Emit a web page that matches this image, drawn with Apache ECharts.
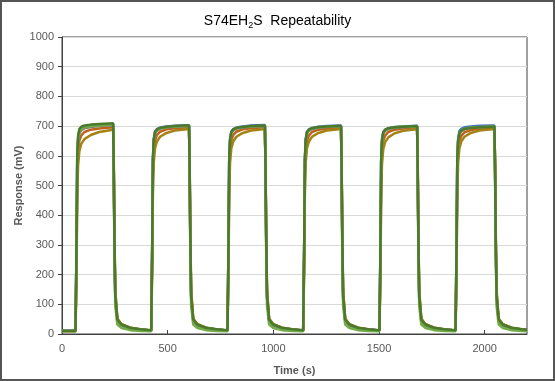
<!DOCTYPE html>
<html><head><meta charset="utf-8">
<script src="https://cdn.jsdelivr.net/npm/echarts@6/dist/echarts.min.js"></script>
<style>html,body{margin:0;padding:0;background:#fff}#c{width:555px;height:381px}</style>
</head><body><div id="c"></div>
<script>
const titleText = 'S74EH{sub|2}S  Repeatability';
const xTitle = 'Time (s)';
const yTitle = 'Response (mV)';

const time = [0,
64,69,72,76,82,91,106,136,176,242,245,248,252,262,282,322,372,
422,427,430,434,440,449,464,494,534,601,604,607,611,621,641,681,731,
783,788,791,795,801,810,825,855,895,960,963,966,970,980,1000,1040,1090,
1141,1146,1149,1153,1159,1168,1183,1213,1253,1320,1323,1326,1330,1340,1360,1400,1450,
1502,1507,1510,1514,1520,1529,1544,1574,1614,1680,1683,1686,1690,1700,1720,1760,1810,
1862,1867,1870,1874,1880,1889,1904,1934,1974,2046,2049,2052,2056,2066,2086,2126,2176,
2200];

const blue = [10,
10,320,590,660,685,693,698,701,703,705,550,320,125,44,29,19,15,
12,315,585,655,682,690,695,699,701,703,550,320,125,44,29,19,15,
12,315,585,655,682,690,695,699,702,704,550,320,125,44,29,19,15,
12,315,585,655,681,689,694,698,700,702,550,320,125,44,29,19,15,
12,315,585,654,680,688,693,697,699,701,550,320,125,44,29,19,15,
12,315,585,656,683,691,696,699,701,702,550,320,125,44,29,19,15,
14];

const orange = [10,
10,260,520,610,650,668,680,688,692,696,565,340,140,50,32,21,15,
12,260,520,612,652,670,681,689,693,696,565,340,140,50,32,21,15,
12,260,520,612,652,670,681,689,693,696,565,340,140,50,32,21,15,
12,258,518,610,650,668,680,688,692,695,565,340,140,50,32,21,15,
12,258,518,610,650,668,680,688,692,695,565,340,140,50,32,21,15,
12,255,515,608,649,667,679,687,691,694,565,340,140,50,32,21,15,
14];

const gray = [11,
11,300,575,648,675,686,693,697,700,703,545,310,120,42,28,19,14,
12,300,575,648,675,685,691,695,698,700,545,310,120,42,28,19,14,
12,300,575,648,675,685,691,695,698,700,545,310,120,42,28,19,14,
12,300,575,647,674,684,690,694,697,699,545,310,120,42,28,19,14,
12,300,575,647,674,684,690,694,696,698,545,310,120,42,28,19,14,
12,298,573,646,673,683,689,694,696,698,545,310,120,42,28,19,14,
13];

const gold = [9,
9,220,460,565,615,640,656,670,680,688,575,355,150,52,33,21,15,
12,225,470,575,625,648,664,677,685,690,575,355,150,52,33,21,15,
12,225,470,575,625,648,664,677,685,690,575,355,150,52,33,21,15,
12,225,470,575,625,648,664,677,685,690,575,355,150,52,33,21,15,
12,222,468,573,623,646,662,676,684,689,575,355,150,52,33,21,15,
12,225,470,575,625,648,664,677,685,690,575,355,150,52,33,21,15,
13];

const lightGreen = [9,
9,310,585,655,682,691,696,700,702,705,520,280,95,32,20,13,10,
9,305,580,652,679,688,693,697,699,701,520,280,95,32,20,13,10,
9,305,580,652,679,688,693,697,699,701,520,280,95,32,20,13,10,
9,305,580,651,678,687,692,696,698,700,520,280,95,32,20,13,10,
9,305,580,651,678,687,692,696,698,699,520,280,95,32,20,13,10,
9,303,578,650,677,686,691,695,697,699,520,280,95,32,20,13,10,
9];

const darkGreen = [11,
11,330,600,665,690,698,702,705,707,710,560,330,130,48,32,21,16,
13,320,590,655,680,689,694,698,700,703,560,330,130,48,32,21,16,
13,320,590,655,680,689,694,697,700,702,560,330,130,48,32,21,16,
13,320,590,655,680,688,693,697,699,701,560,330,130,48,32,21,16,
13,320,590,655,679,688,693,696,698,700,560,330,130,48,32,21,16,
13,315,585,650,676,685,690,694,696,698,560,330,130,48,32,21,16,
14];

const seriesNames = ['S1','S2','S3','S4','S5','S6'];
const seriesValues = [blue, orange, gray, gold, lightGreen, darkGreen];
const seriesColors = ['#4472C4','#C0631A','#7F7F7F','#A58214','#70AD47','#4B7A2C'];

const chart = echarts.init(document.getElementById('c'));
const font = 'Liberation Sans, Arial, sans-serif';
chart.setOption({
  animation: false,
  backgroundColor: '#fff',
  title: {
    text: titleText, left: 'center', top: 8,
    textStyle: {
      fontFamily: font, fontSize: 14, fontWeight: 'normal', color: '#000',
      rich: { sub: { fontFamily: font, fontSize: 9, verticalAlign: 'bottom', padding: [8,0,0,0], color: '#000' } }
    }
  },
  graphic: [{ type: 'rect', shape: { x: 1, y: 1, width: 553, height: 379 },
    style: { fill: null, stroke: '#555', lineWidth: 2 }, silent: true }],
  grid: { left: 62, top: 37, right: 28, bottom: 47, show: true, borderColor: '#404040', borderWidth: 1,
    containLabel: false, outerBoundsMode: 'none' },
  xAxis: {
    type: 'value', min: 0, max: 2200, interval: 500,
    name: xTitle, nameLocation: 'middle', nameGap: 31, nameMoveOverlap: false,
    nameTextStyle: { fontFamily: font, fontSize: 11, fontWeight: 'bold', color: '#595959' },
    axisLine: { lineStyle: { color: '#404040', width: 1 } },
    axisTick: { inside: true, length: 4, lineStyle: { color: '#404040' } },
    axisLabel: { fontFamily: font, fontSize: 11, color: '#595959', margin: 9, showMaxLabel: false,
      formatter: v => (v % 500 === 0 ? String(v) : '') },
    splitLine: { show: false }
  },
  yAxis: {
    type: 'value', min: 0, max: 1000, interval: 100,
    name: yTitle, nameLocation: 'middle', nameGap: 38, nameMoveOverlap: false,
    nameTextStyle: { fontFamily: font, fontSize: 11, fontWeight: 'bold', color: '#595959' },
    axisLine: { show: true, lineStyle: { color: '#404040', width: 1 } },
    axisTick: { show: true, length: 4, lineStyle: { color: '#404040' } },
    axisLabel: { fontFamily: font, fontSize: 11, color: '#595959', margin: 8, formatter: v => String(v) },
    splitLine: { lineStyle: { color: '#D9D9D9', width: 1 } }
  },
  series: seriesValues.map((vals, k) => ({
    name: seriesNames[k], type: 'line', showSymbol: false, symbol: 'none',
    data: time.map((t, i) => [t, vals[i]]),
    lineStyle: { color: seriesColors[k], width: 2.5 },
    itemStyle: { color: seriesColors[k] },
    z: 2 + k
  }))
});
</script></body></html>
